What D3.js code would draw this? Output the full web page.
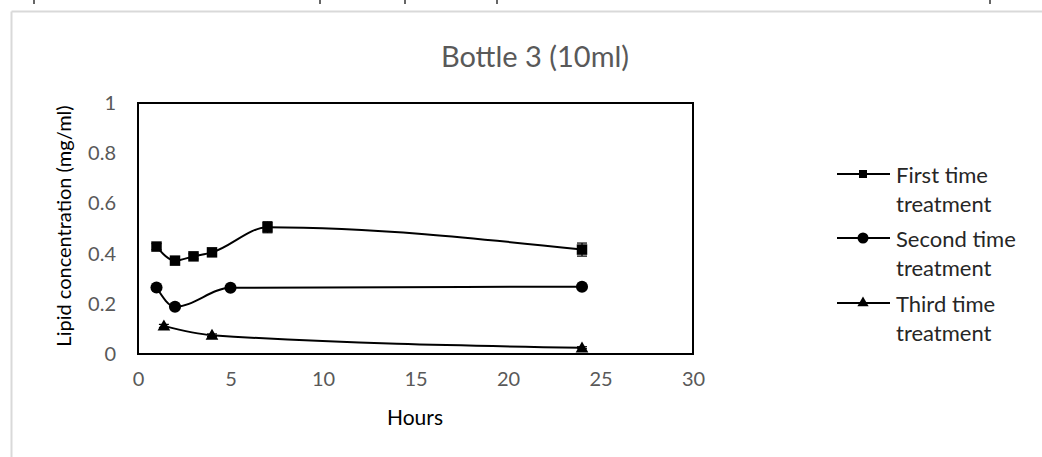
<!DOCTYPE html>
<html>
<head>
<meta charset="utf-8">
<script src="https://cdn.jsdelivr.net/npm/d3@7"></script>
<style>
  html, body { margin: 0; padding: 0; background: #fff; }
  svg { display: block; }
</style>
</head>
<body>
<svg id="chart" width="1042" height="457"></svg>
<script>
// Lipid concentration over time, bottle 3 (10 ml)
const chartTitle = "Bottle 3 (10ml)";
const xTitle = "Hours";
const yTitle = "Lipid concentration (mg/ml)";
const xTicks = [0, 5, 10, 15, 20, 25, 30];
const yTicks = [0, 0.2, 0.4, 0.6, 0.8, 1];

const seriesNames = ["First time treatment", "Second time treatment", "Third time treatment"];

const firstHours = [1, 2, 3, 4, 7, 24];
const firstValues = [0.428, 0.372, 0.389, 0.405, 0.505, 0.416];
const firstErrors = [0.012, 0.012, 0.01, 0.012, 0.022, 0.026];

const secondHours = [1, 2, 5, 24];
const secondValues = [0.265, 0.188, 0.264, 0.268];
const secondErrors = [0.006, 0.006, 0.006, 0.006];

const thirdHours = [1.4, 4, 24];
const thirdValues = [0.112, 0.075, 0.025];
const thirdErrors = [0.006, 0.005, 0.004];

const svg = d3.select("#chart");
const font = "Lato, 'Open Sans', sans-serif";
const grey = "#595959";

// chart area border and the cell marks along the top edge
svg.append("line").attr("x1", 11.5).attr("x2", 1042).attr("y1", 11.5).attr("y2", 11.5)
  .attr("stroke", "#d9d9d9").attr("stroke-width", 2);
svg.append("line").attr("x1", 11.5).attr("x2", 11.5).attr("y1", 11.5).attr("y2", 457)
  .attr("stroke", "#d9d9d9").attr("stroke-width", 2);
[34, 320, 405, 497, 990].forEach(x => {
  svg.append("line").attr("x1", x).attr("x2", x).attr("y1", 0).attr("y2", 4)
    .attr("stroke", "#333").attr("stroke-width", 1.5);
});

const x = d3.scaleLinear().domain([0, 30]).range([138, 693]);
const y = d3.scaleLinear().domain([0, 1]).range([354, 103]);

// plot frame
svg.append("rect")
  .attr("x", x(0)).attr("y", y(1))
  .attr("width", x(30) - x(0)).attr("height", y(0) - y(1))
  .attr("fill", "none").attr("stroke", "#000").attr("stroke-width", 2);

// axes (labels only; the frame carries the lines)
const xAxis = svg.append("g").attr("transform", `translate(0,${y(0)})`)
  .call(d3.axisBottom(x).tickValues(xTicks).tickSize(0).tickPadding(18).tickFormat(d3.format("d")));
xAxis.select(".domain").remove();
xAxis.selectAll("text").attr("font-family", font).attr("font-size", 20).attr("fill", grey);

const yAxis = svg.append("g").attr("transform", `translate(116,0)`)
  .call(d3.axisLeft(y).tickValues(yTicks).tickSize(0).tickPadding(0).tickFormat(d => String(d)));
yAxis.select(".domain").remove();
yAxis.selectAll("text").attr("font-family", font).attr("font-size", 20).attr("fill", grey);

// titles
svg.append("text").attr("x", 535).attr("y", 67).attr("text-anchor", "middle")
  .attr("font-family", font).attr("font-size", 29).attr("fill", grey).text(chartTitle);
svg.append("text").attr("x", 415).attr("y", 425).attr("text-anchor", "middle")
  .attr("font-family", font).attr("font-size", 21).attr("fill", "#000").text(xTitle);
svg.append("text")
  .attr("transform", `translate(71,226) rotate(-90)`)
  .attr("text-anchor", "middle")
  .attr("font-family", font).attr("font-size", 20).attr("fill", "#000").text(yTitle);

const series = [
  { hours: firstHours, values: firstValues, errors: firstErrors, symbol: d3.symbolSquare, size: 110, legendSize: 64 },
  { hours: secondHours, values: secondValues, errors: secondErrors, symbol: d3.symbolCircle, size: 115, legendSize: 95 },
  { hours: thirdHours, values: thirdValues, errors: thirdErrors, symbol: d3.symbolTriangle, size: 70, legendSize: 55 }
];

const line = d3.line()
  .x(d => x(d.h)).y(d => y(d.v))
  .curve(d3.curveMonotoneX);

series.forEach(s => {
  const pts = s.hours.map((h, i) => ({ h, v: s.values[i], e: s.errors[i] }));
  const g = svg.append("g");
  g.append("path").datum(pts).attr("d", line)
    .attr("fill", "none").attr("stroke", "#000").attr("stroke-width", 2);
  // error bars
  pts.forEach(p => {
    g.append("line").attr("x1", x(p.h)).attr("x2", x(p.h))
      .attr("y1", y(p.v - p.e)).attr("y2", y(p.v + p.e))
      .attr("stroke", "#000").attr("stroke-width", 1.2);
    [p.v - p.e, p.v + p.e].forEach(v => {
      g.append("line").attr("x1", x(p.h) - 5).attr("x2", x(p.h) + 5)
        .attr("y1", y(v)).attr("y2", y(v))
        .attr("stroke", "#000").attr("stroke-width", 1.2);
    });
  });
  g.selectAll("path.mark").data(pts).join("path").attr("class", "mark")
    .attr("transform", d => `translate(${x(d.h)},${y(d.v) + (s.symbol === d3.symbolTriangle ? 1 : 0)})`)
    .attr("d", d3.symbol().type(s.symbol).size(s.size))
    .attr("fill", "#000");
});

// legend
const legendRows = [174, 238, 303];
series.forEach((s, i) => {
  const ly = legendRows[i];
  const g = svg.append("g");
  g.append("line").attr("x1", 837).attr("x2", 890).attr("y1", ly).attr("y2", ly)
    .attr("stroke", "#000").attr("stroke-width", 2);
  g.append("path").attr("transform", `translate(863,${ly})`)
    .attr("d", d3.symbol().type(s.symbol).size(s.legendSize))
    .attr("fill", "#000");
  const words = seriesNames[i].split(" ");
  const text = g.append("text").attr("font-family", font).attr("font-size", 22).attr("fill", "#262626");
  text.append("tspan").attr("x", 896).attr("y", ly + 9).text(words.slice(0, 2).join(" "));
  text.append("tspan").attr("x", 896).attr("y", ly + 38).text(words.slice(2).join(" "));
});
</script>
</body>
</html>
